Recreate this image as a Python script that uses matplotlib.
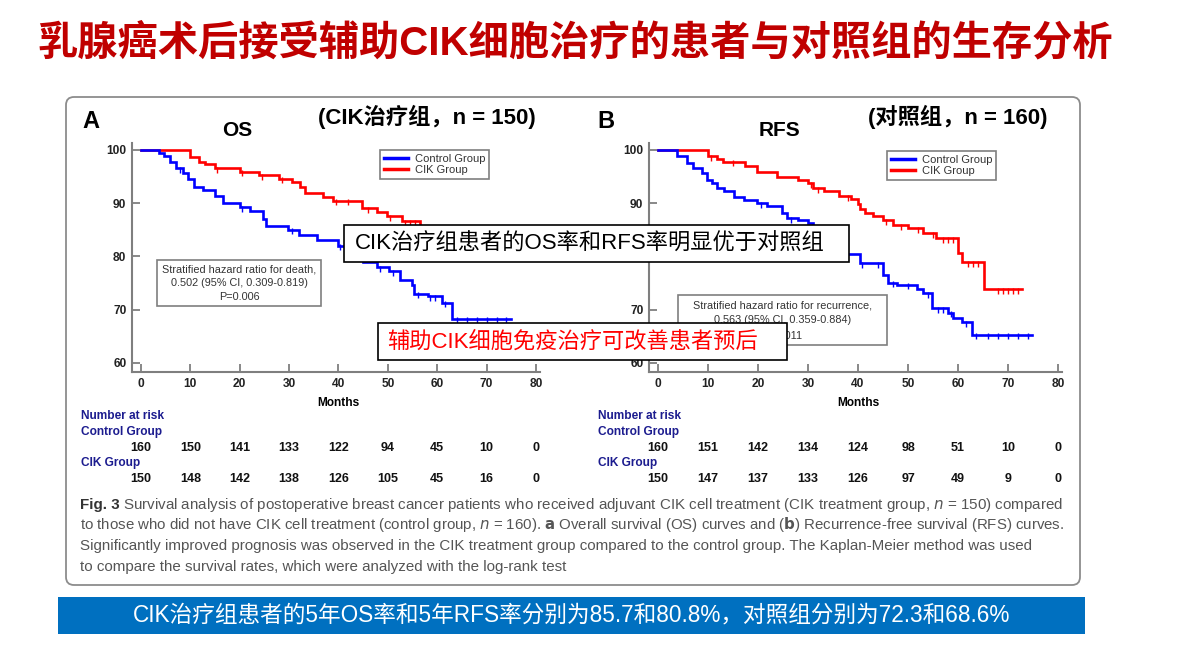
import numpy as np
import matplotlib
matplotlib.use("Agg")
import matplotlib.pyplot as plt
from matplotlib.patches import FancyBboxPatch, Rectangle
from matplotlib.lines import Line2D
from matplotlib.transforms import blended_transform_factory

# ---------------------------
# Data
# ---------------------------
months_ticks = [0, 10, 20, 30, 40, 50, 60, 70, 80]
surv_ticks = [60, 70, 80, 90, 100]

# OS - CIK group (red): times of drops and level after drop
os_cik_t = [0, 9.9, 11.8, 12.9, 15.0, 20.0, 24.0, 28.0, 30.5, 32.2, 33.2, 36.8, 38.8,
            44.8, 47.8, 49.8, 52.9, 56.5, 61.0, 64.0, 74.0]
os_cik_s = [100, 98.6, 97.8, 97.3, 96.6, 95.9, 95.3, 94.6, 94.0, 93.0, 91.9, 91.1, 90.5,
            89.1, 88.3, 87.5, 86.6, 85.7, 85.2, 84.8, 84.8]
os_cik_cens = [15.5, 20.5, 24.5, 28.5, 39.5, 42.0, 46.0, 50.5, 53.5, 54.5, 55.5]

# OS - control group (blue)
os_ctl_t = [0, 3.6, 4.6, 5.9, 7.2, 8.6, 9.6, 10.7, 12.6, 15.0, 16.6, 20.0, 22.0, 24.7,
            25.4, 29.7, 32.0, 35.7, 40.0, 42.0, 44.0, 45.0, 47.8, 50.2, 52.5, 54.9, 55.2,
            58.2, 60.9, 62.9, 75.0]
os_ctl_s = [100, 99.4, 98.9, 97.8, 96.6, 95.6, 94.6, 93.0, 92.5, 91.3, 90.0, 89.3, 88.5,
            87.0, 85.8, 85.0, 84.0, 83.1, 82.0, 81.0, 80.0, 79.0, 78.0, 77.2, 75.5, 74.6,
            73.0, 72.5, 71.3, 68.3, 68.3]
os_ctl_cens = [8.0, 20.5, 30.5, 40.3, 48.5, 51.0, 56.0, 58.5, 59.5, 61.5, 64.0, 66.0,
               68.0, 70.0, 72.0, 74.0]

# RFS - CIK group (red)
rfs_cik_t = [0, 9.9, 11.7, 13.0, 17.4, 19.8, 23.8, 27.9, 29.9, 30.9, 33.2, 36.2, 38.6,
             39.9, 40.3, 41.3, 43.0, 45.0, 47.0, 50.0, 53.0, 55.5, 60.0, 60.8, 65.1, 72.8]
rfs_cik_s = [100, 98.8, 98.3, 97.8, 96.9, 95.8, 95.0, 94.3, 93.7, 92.8, 92.2, 91.3, 90.8,
             89.9, 89.0, 88.1, 87.5, 86.8, 85.9, 85.3, 84.4, 83.4, 80.6, 78.9, 73.8, 73.8]
rfs_cik_cens = [10.5, 15.0, 30.5, 32.0, 38.0, 45.5, 48.5, 52.0, 55.0, 57.0, 58.0, 59.0,
                62.0, 63.0, 64.0, 68.0, 69.0, 70.0, 71.0, 72.0]

# RFS - control group (blue)
rfs_ctl_t = [0, 3.8, 5.7, 7.0, 8.7, 9.7, 10.7, 11.7, 13.1, 15.1, 17.1, 19.8, 21.8, 24.8,
             25.8, 27.9, 29.9, 31.0, 32.5, 34.0, 35.0, 36.0, 37.0, 40.3, 45.0, 46.0, 47.7,
             51.7, 53.0, 54.7, 58.0, 59.0, 60.7, 62.8, 74.8]
rfs_ctl_s = [100, 98.9, 97.5, 96.6, 95.6, 94.4, 93.8, 92.9, 92.2, 91.2, 90.6, 90.0, 89.4,
             88.1, 87.2, 86.8, 86.2, 85.2, 84.3, 83.3, 82.3, 81.3, 80.5, 78.7, 76.6, 75.1,
             74.7, 73.8, 73.1, 70.3, 69.4, 68.4, 67.6, 65.3, 65.3]
rfs_ctl_cens = [20.5, 26.5, 40.8, 44.0, 47.0, 50.0, 54.0, 56.0, 57.0, 58.5, 61.5, 63.5,
                66.0, 68.0, 70.0, 72.0, 74.0]

# Number at risk
os_risk_ctl = [160, 150, 141, 133, 122, 94, 45, 10, 0]
os_risk_cik = [150, 148, 142, 138, 126, 105, 45, 16, 0]
rfs_risk_ctl = [160, 151, 142, 134, 124, 98, 51, 10, 0]
rfs_risk_cik = [150, 147, 137, 133, 126, 97, 49, 9, 0]

# ---------------------------
# Style
# ---------------------------
W, H = 1178, 657
CJK = ['Liberation Sans', 'Noto Sans CJK SC', 'DejaVu Sans']
plt.rcParams['font.family'] = CJK
BLUE = '#0000ff'
RED = '#ff0000'
NAVY = '#1c1c8f'
GRAY = '#7f7f7f'

fig = plt.figure(figsize=(W / 100, H / 100), dpi=100)

# background layer in pixel coordinates
bg = fig.add_axes([0, 0, 1, 1], zorder=0)
bg.set_xlim(0, W)
bg.set_ylim(H, 0)
bg.axis('off')

# top layer for the overlay boxes
top = fig.add_axes([0, 0, 1, 1], zorder=5)
top.set_xlim(0, W)
top.set_ylim(H, 0)
top.axis('off')
top.patch.set_alpha(0)


def step_value(t, s, x):
    idx = np.searchsorted(np.array(t), x, side='right') - 1
    return np.array(s)[idx]


def km_panel(px_left, px_right, series):
    ax = fig.add_axes([px_left / W, 1 - 372 / H, (px_right - px_left) / W, (372 - 143) / H],
                      zorder=1)
    ax.patch.set_alpha(0)
    for t, s, cens, col in series:
        ax.step(t, s, where='post', color=col, lw=1.9, solid_joinstyle='miter')
        ax.plot(cens, step_value(t, s, cens) - 0.3, ls='none', marker='|', ms=4, mew=1.0,
                color=col)
    ax.set_xlim(-1.8, 80.8)
    ax.set_ylim(58.3, 101.3)
    ax.set_xticks(months_ticks)
    ax.set_yticks(surv_ticks)
    for sp in ['top', 'right']:
        ax.spines[sp].set_visible(False)
    for sp in ['left', 'bottom']:
        ax.spines[sp].set_color(GRAY)
        ax.spines[sp].set_linewidth(1.5)
    ax.tick_params(direction='in', length=6, width=1.3, color=GRAY, labelsize=8.6,
                   pad=4, labelcolor='#222222')
    for lab in ax.get_xticklabels() + ax.get_yticklabels():
        lab.set_fontweight('bold')
    return ax


axA = km_panel(132, 540, [(os_cik_t, os_cik_s, os_cik_cens, RED),
                          (os_ctl_t, os_ctl_s, os_ctl_cens, BLUE)])
axB = km_panel(649, 1062, [(rfs_cik_t, rfs_cik_s, rfs_cik_cens, RED),
                           (rfs_ctl_t, rfs_ctl_s, rfs_ctl_cens, BLUE)])
# the "80" label of panel B sits under the overlay box in the slide
axB.get_yticklabels()[2].set_visible(False)

handles = [Line2D([], [], color=BLUE, lw=2.5), Line2D([], [], color=RED, lw=2.5)]
for ax, (lx, ly) in [(axA, (380, 150)), (axB, (887, 151))]:
    leg = ax.legend(handles, ['Control Group', 'CIK Group'], loc='upper left',
                    bbox_to_anchor=(lx / W, 1 - ly / H), bbox_transform=fig.transFigure,
                    fancybox=False, fontsize=8, handlelength=2.2, handletextpad=0.6,
                    labelspacing=0.12, borderpad=0.35, borderaxespad=0, framealpha=1)
    leg.get_frame().set_edgecolor(GRAY)
    leg.get_frame().set_linewidth(1.2)
    for txt in leg.get_texts():
        txt.set_color('#333333')

# ---------------------------
# Texts on the background
# ---------------------------
bg.text(37, 43, '乳腺癌术后接受辅助CIK细胞治疗的患者与对照组的生存分析', fontsize=29,
        fontweight='bold', color='#c00000', ha='left', va='center')

bg.add_patch(FancyBboxPatch((66, 97), 1014, 488, boxstyle='round,pad=0,rounding_size=8',
                            fc='white', ec='#8c8c8c', lw=1.3))

for x, t in [(82, 'A'), (597, 'B')]:
    bg.text(x, 121, t, fontsize=17, fontweight='bold', ha='left', va='center')
bg.text(237, 130, 'OS', fontsize=15, fontweight='bold', ha='center', va='center')
bg.text(780, 130, 'RFS', fontsize=15, fontweight='bold', ha='center', va='center')
bg.text(318, 117, '(CIK治疗组，n = 150)', fontsize=16, fontweight='bold', ha='left',
        va='center')
bg.text(868, 117, '(对照组，n = 160)', fontsize=16, fontweight='bold', ha='left',
        va='center')

# hazard ratio boxes
for (x0, y0, x1, y1), lines in [((157, 260, 321, 306),
                                 ['Stratified hazard ratio for death,',
                                  '0.502 (95% CI, 0.309-0.819)', 'P=0.006']),
                                ((678, 295, 887, 345),
                                 ['Stratified hazard ratio for recurrence,',
                                  '0.563 (95% CI, 0.359-0.884)', 'P=0.011'])]:
    bg.add_patch(Rectangle((x0, y0), x1 - x0, y1 - y0, fc='white', ec=GRAY, lw=1.2,
                           zorder=3))
    gap = (y1 - y0) / 3.3
    for i, ln in enumerate(lines):
        bg.text((x0 + x1) / 2, y0 + gap * (0.68 + i), ln, fontsize=7.8, ha='center',
                va='center', color='#333333', zorder=4)

# months labels and number at risk
for ax, xl, ctl, cik in [(axA, 81, os_risk_ctl, os_risk_cik),
                         (axB, 598, rfs_risk_ctl, rfs_risk_cik)]:
    tr = blended_transform_factory(ax.transData, bg.transData)
    bg.text(40, 403, 'Months', transform=tr, fontsize=8.6, fontweight='bold', ha='center',
            va='center')
    bg.text(xl, 416, 'Number at risk', fontsize=8.6, fontweight='bold', color=NAVY,
            ha='left', va='center')
    bg.text(xl, 432, 'Control Group', fontsize=8.6, fontweight='bold', color=NAVY,
            ha='left', va='center')
    bg.text(xl, 463, 'CIK Group', fontsize=8.6, fontweight='bold', color=NAVY,
            ha='left', va='center')
    for m, a, b in zip(months_ticks, ctl, cik):
        bg.text(m, 448, str(a), transform=tr, fontsize=9, fontweight='bold', ha='center',
                va='center', color='#111111')
        bg.text(m, 479, str(b), transform=tr, fontsize=9, fontweight='bold', ha='center',
                va='center', color='#111111')

# caption
cap_font = ['Liberation Sans Narrow', 'Liberation Sans']
cap_col = '#555555'
cap_size = 10.9
cap_y = [505, 525, 546, 567]
bg.text(80, cap_y[0], 'Fig. 3', fontsize=cap_size, fontweight='bold', family=cap_font,
        color='#333333', ha='left', va='center')
bg.text(123, cap_y[0], 'Survival analysis of postoperative breast cancer patients who '
        'received adjuvant CIK cell treatment (CIK treatment group, $n$ = 150) compared',
        fontsize=cap_size, family=cap_font, color=cap_col, ha='left', va='center')
bg.text(80, cap_y[1], 'to those who did not have CIK cell treatment (control group, '
        '$n$ = 160). $\\bf{a}$ Overall survival (OS) curves and ($\\bf{b}$) '
        'Recurrence-free survival (RFS) curves.', fontsize=10.8, family=cap_font,
        color=cap_col, ha='left', va='center')
bg.text(80, cap_y[2], 'Significantly improved prognosis was observed in the CIK treatment '
        'group compared to the control group. The Kaplan-Meier method was used',
        fontsize=cap_size, family=cap_font, color=cap_col, ha='left', va='center')
bg.text(80, cap_y[3], 'to compare the survival rates, which were analyzed with the '
        'log-rank test', fontsize=cap_size, family=cap_font, color=cap_col, ha='left',
        va='center')

# ---------------------------
# Overlay boxes and banner
# ---------------------------
top.add_patch(Rectangle((344, 225), 505, 37, fc='white', ec='black', lw=1.2))
top.text(355, 244, 'CIK治疗组患者的OS率和RFS率明显优于对照组', fontsize=16,
         ha='left', va='center', color='black')
top.add_patch(Rectangle((378, 323), 409, 37, fc='white', ec='black', lw=1.2))
top.text(387, 342, '辅助CIK细胞免疫治疗可改善患者预后', fontsize=16,
         ha='left', va='center', color='#ff0000')

top.add_patch(Rectangle((58, 597), 1027, 37, fc='#0070c0', ec='none'))
top.text(572, 615, 'CIK治疗组患者的5年OS率和5年RFS率分别为85.7和80.8%，对照组分别为72.3和68.6%',
         fontsize=16.3, ha='center', va='center', color='white')

fig.savefig('out.png', dpi=100)
